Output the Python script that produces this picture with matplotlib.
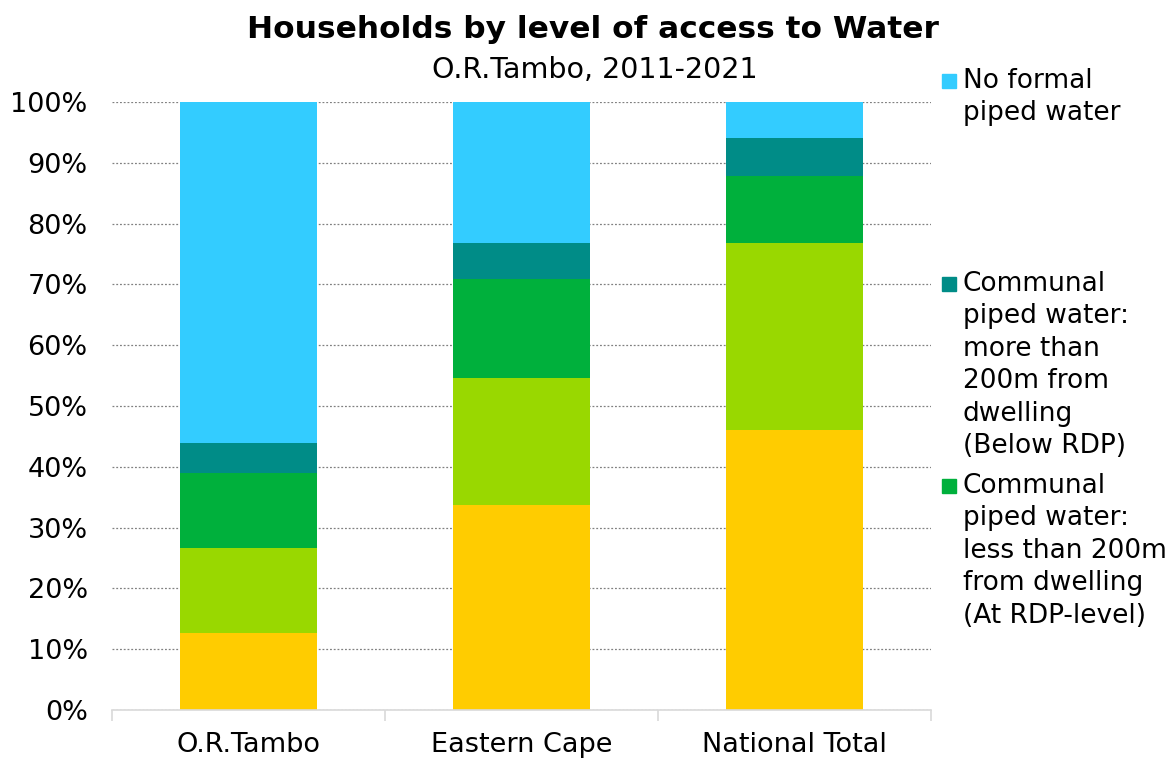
import numpy as np
from matplotlib import pyplot as plt

plt.rcParams['font.family'] = ['DejaVu Sans']

# data (percent of households)
regions = ['O.R.Tambo', 'Eastern Cape', 'National Total']
in_dwelling = [12.6, 33.7, 46.1]
in_yard = [14.1, 20.9, 30.7]
communal_near = [12.3, 16.3, 11.1]
communal_far = [4.9, 5.9, 6.2]
no_formal = [56.1, 23.2, 5.9]

series = [in_dwelling, in_yard, communal_near, communal_far, no_formal]
colors = ['#FFCC00', '#99D800', '#00B03C', '#008C87', '#33CCFF']

# only these three show up in the chart's legend
legend_labels = ['No formal\npiped water',
                 'Communal\npiped water:\nmore than\n200m from\ndwelling\n(Below RDP)',
                 'Communal\npiped water:\nless than 200m\nfrom dwelling\n(At RDP-level)']
legend_colors = ['#33CCFF', '#008C87', '#00B03C']

fig = plt.figure(figsize=(11.7, 7.58), dpi=100)
ax = fig.add_axes([112 / 1170, 1 - 710 / 758, (931 - 112) / 1170, (710 - 102) / 758])

x = np.arange(len(regions))
bottom = np.zeros(len(regions))
for vals, c in zip(series, colors):
    ax.bar(x, vals, width=0.5, bottom=bottom, color=c, zorder=3)
    bottom += np.array(vals)

ax.set_xlim(-0.5, 2.5)
ax.set_ylim(0, 100)
ax.set_yticks(range(0, 101, 10))
ax.set_yticklabels(['{}%'.format(v) for v in range(0, 101, 10)], fontsize=19.5)
ax.set_xticks(x)
ax.set_xticklabels(regions, fontsize=19.5)
ax.set_xticks([-0.5, 0.5, 1.5, 2.5], minor=True)
ax.tick_params(axis='x', which='major', length=0, pad=16)
ax.tick_params(axis='x', which='minor', length=8, color='#d9d9d9', width=1.2)
ax.tick_params(axis='y', length=0, pad=17.5)
ax.grid(axis='y', color='#808080', linestyle=(0, (1.5, 1.5)), linewidth=0.9, zorder=0)
for s in ['top', 'right', 'left']:
    ax.spines[s].set_visible(False)
ax.spines['bottom'].set_color('#d9d9d9')
ax.spines['bottom'].set_linewidth(1.2)
ax.spines['bottom'].set_zorder(4)

fig.text(593 / 1170, 1 - 30 / 758, 'Households by level of access to Water',
         ha='center', va='center', fontsize=22.5, fontweight='bold')
fig.text(595 / 1170, 1 - 70 / 758, 'O.R.Tambo, 2011-2021',
         ha='center', va='center', fontsize=20.5)

# hand-placed legend on the right
legend_y = [81, 284, 486]
for lab, c, yy in zip(legend_labels, legend_colors, legend_y):
    fig.patches.append(plt.Rectangle((942 / 1170, 1 - (yy + 7) / 758), 14 / 1170, 14 / 758,
                                     transform=fig.transFigure, color=c, figure=fig))
    fig.text(963 / 1170, 1 - (yy - 13) / 758, lab, ha='left', va='top',
             fontsize=19, linespacing=1.32)

plt.savefig('out.png', dpi=100)
